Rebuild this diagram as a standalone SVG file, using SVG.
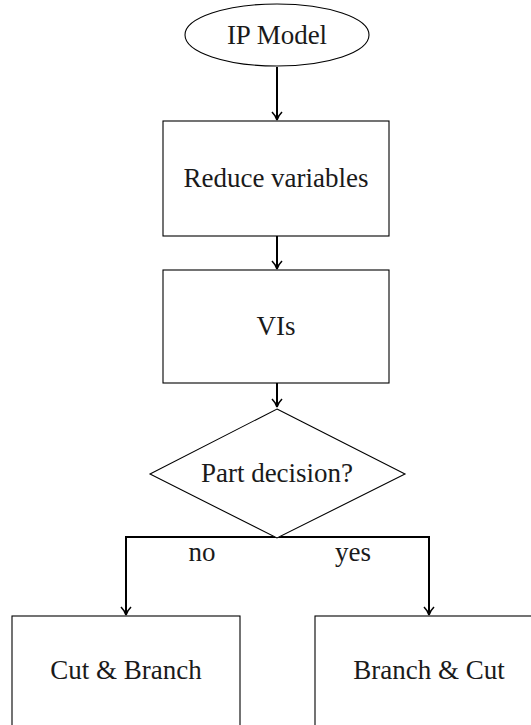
<svg xmlns="http://www.w3.org/2000/svg" width="531" height="725" viewBox="0 0 531 725">
<style>
.n{fill:#fff;stroke:#000;stroke-width:1.1}
.t{font-family:"Liberation Serif","Times New Roman",serif;font-size:27px;fill:#1a1a1a;text-anchor:middle}
.c{fill:none;stroke:#000;stroke-width:2}
</style>
<defs>
<marker id="ar" markerWidth="12" markerHeight="12" refX="9" refY="6" orient="auto" markerUnits="userSpaceOnUse">
<path d="M1,1 Q5,5 9,6 Q5,7 1,11" fill="none" stroke="#000" stroke-width="1.6"/>
</marker>
</defs>
<rect width="531" height="725" fill="#fff"/>
<g id="connectors">
<path class="c" d="M277,67 V120" marker-end="url(#ar)"/>
<path class="c" d="M277,236 V269" marker-end="url(#ar)"/>
<path class="c" d="M277,383 V407" marker-end="url(#ar)"/>
<path class="c" d="M277,537 H126 V615" marker-end="url(#ar)"/>
<path class="c" d="M277,537 H429 V615" marker-end="url(#ar)"/>
<text class="t" x="202" y="561">no</text>
<text class="t" x="353" y="561">yes</text>
</g>
<g id="ip">
<ellipse class="n" cx="277" cy="35" rx="92" ry="31"/>
<text class="t" x="277" y="44">IP Model</text>
</g>
<g id="reduce">
<rect class="n" x="163" y="121" width="226" height="115"/>
<text class="t" x="276" y="187">Reduce variables</text>
</g>
<g id="vis">
<rect class="n" x="163" y="270" width="226" height="113"/>
<text class="t" x="276" y="335">VIs</text>
</g>
<g id="decision">
<polygon class="n" points="277,409 405,474 277,538 150,474"/>
<text class="t" x="277" y="482">Part decision?</text>
</g>
<g id="cutbranch">
<rect class="n" x="12" y="616" width="228" height="120"/>
<text class="t" x="126" y="679">Cut &amp; Branch</text>
</g>
<g id="branchcut">
<rect class="n" x="315" y="616" width="230" height="120"/>
<text class="t" x="429" y="679">Branch &amp; Cut</text>
</g>
</svg>
